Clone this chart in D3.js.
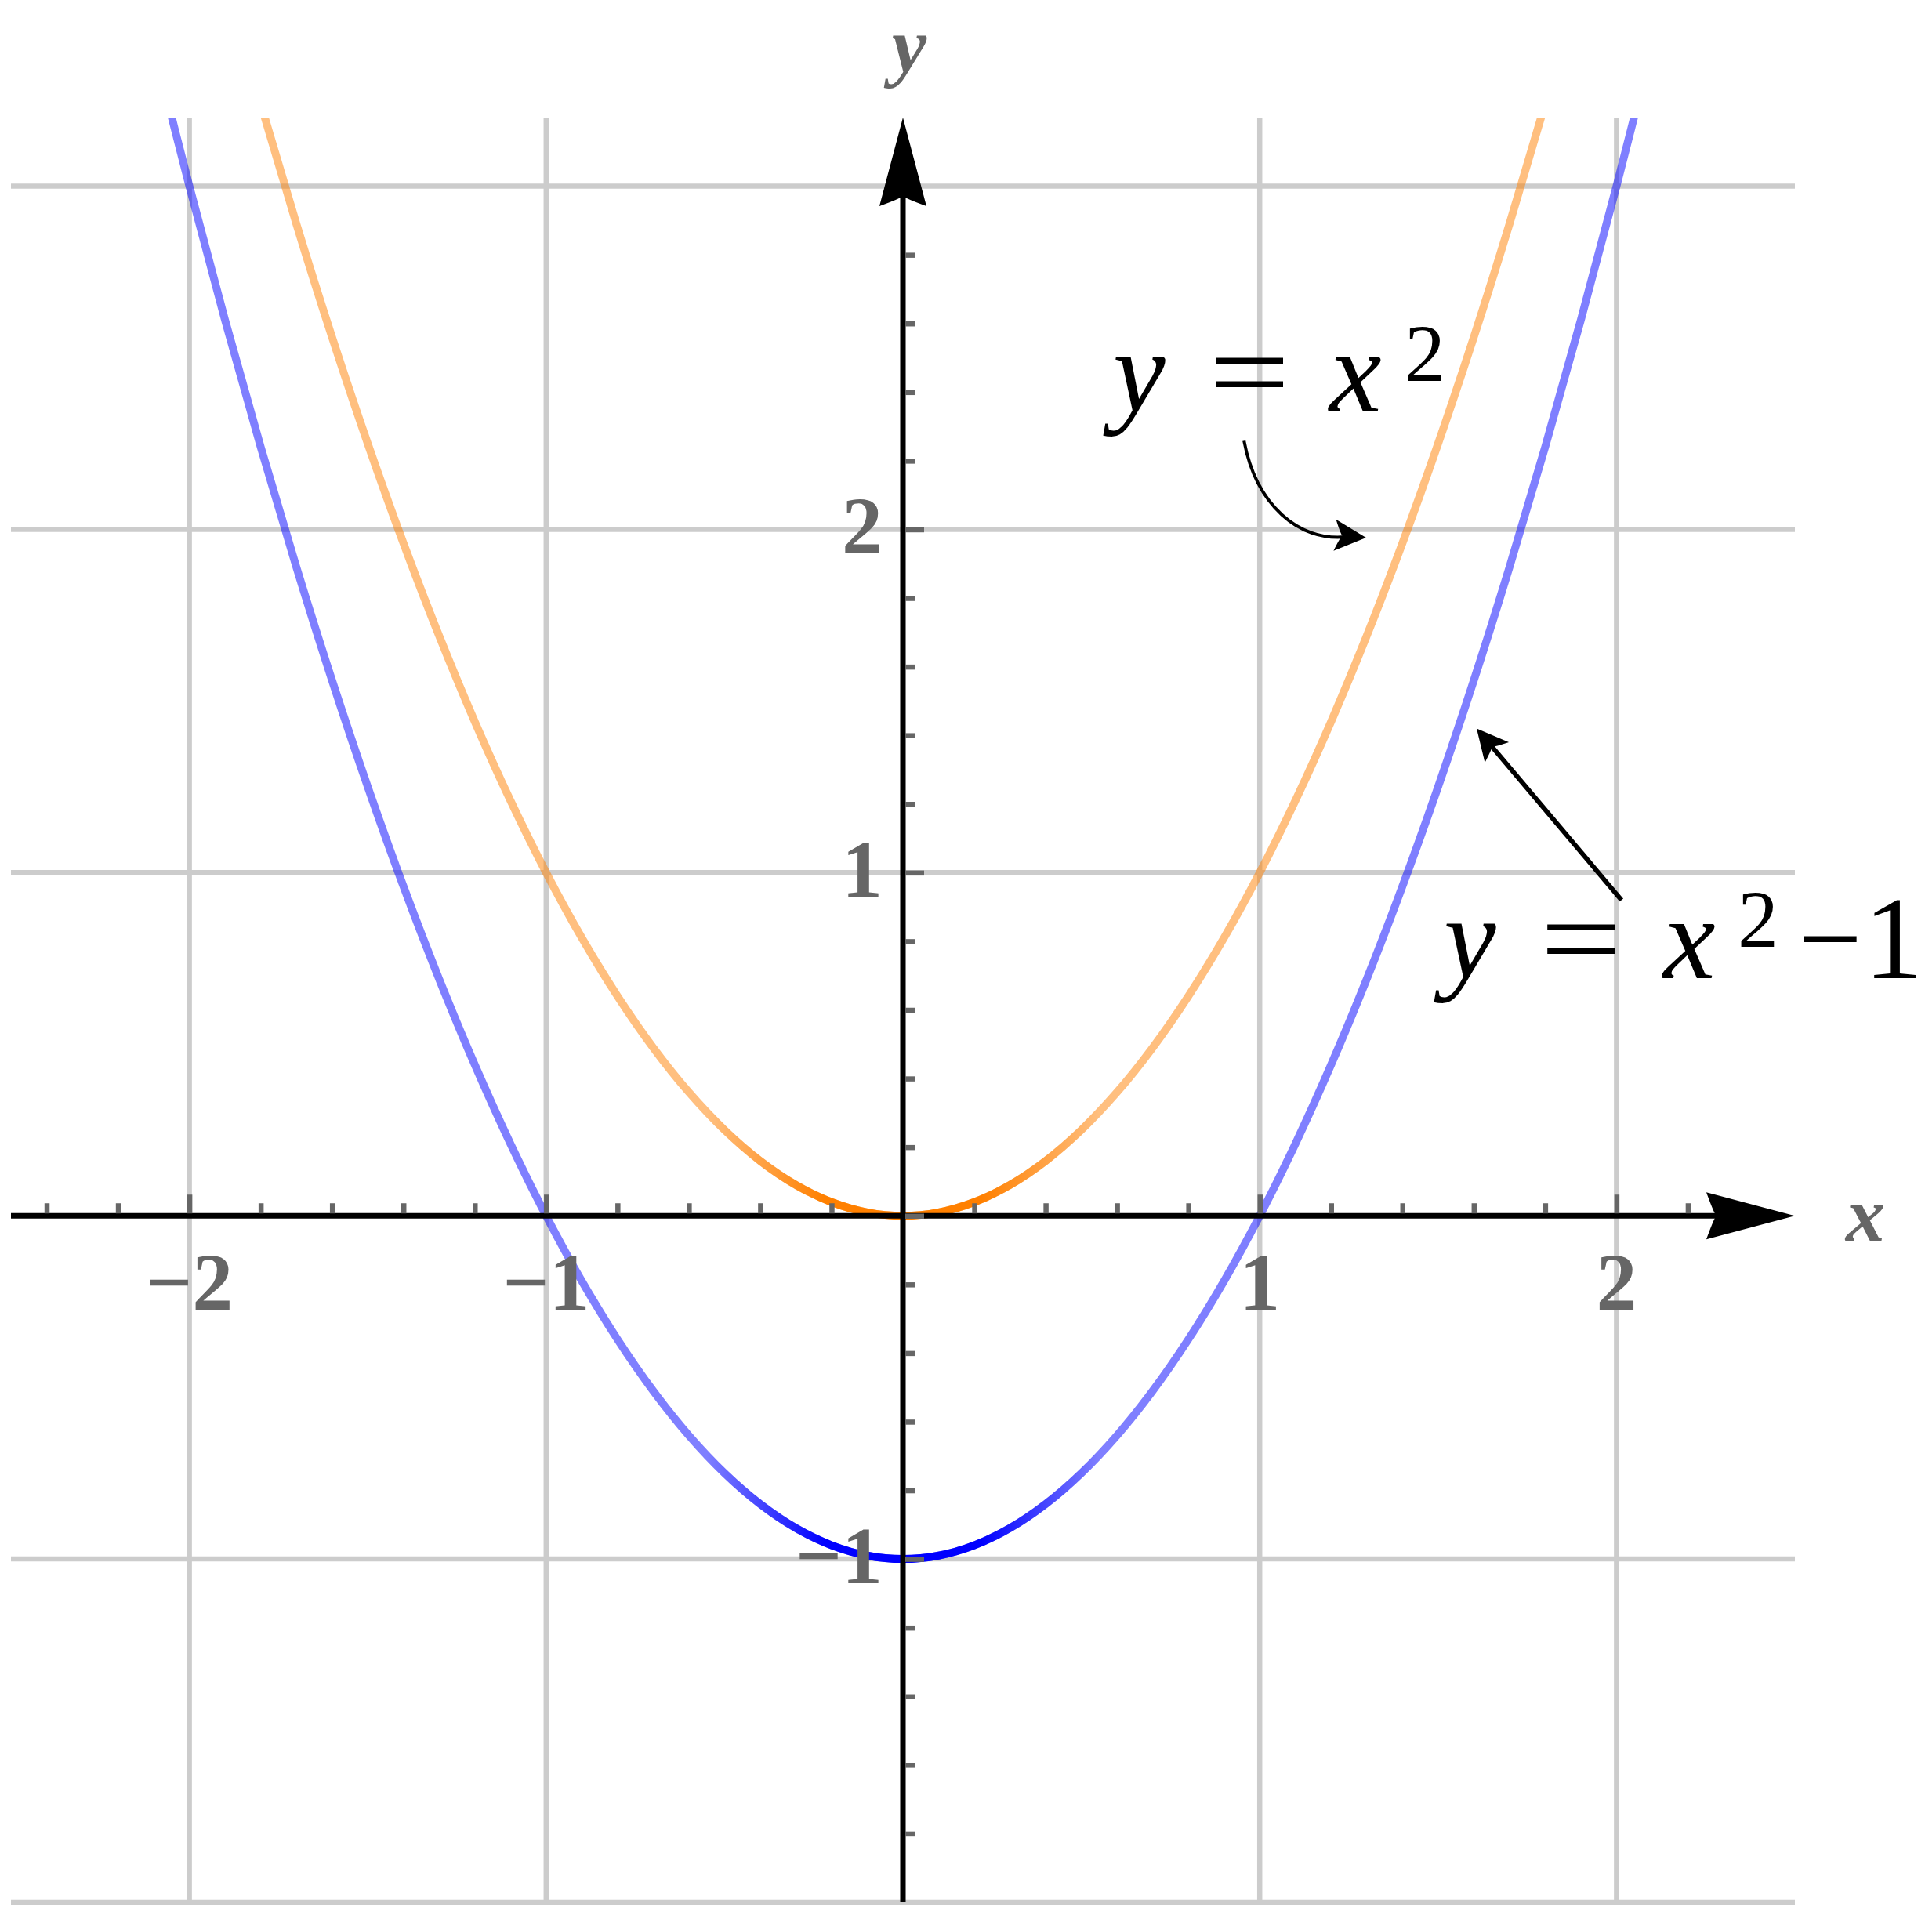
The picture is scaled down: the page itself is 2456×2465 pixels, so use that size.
<!DOCTYPE html>
<html>
<head>
<meta charset="utf-8">
<script src="https://cdn.jsdelivr.net/npm/d3@7"></script>
<style>
  body { margin: 0; background: #fff; }
</style>
</head>
<body>
<div id="chart"></div>
<script>
// sample points
const xs = [-2.1, -2.0, -1.9, -1.8, -1.7, -1.6, -1.5, -1.4, -1.3, -1.2, -1.1,
    -1.0, -0.9, -0.8, -0.7, -0.6, -0.5, -0.4, -0.3, -0.2, -0.1, 0,
    0.1, 0.2, 0.3, 0.4, 0.5, 0.6, 0.7, 0.8, 0.9, 1.0,
    1.1, 1.2, 1.3, 1.4, 1.5, 1.6, 1.7, 1.8, 1.9, 2.0, 2.1];
const ySquare = [4.41, 4.0, 3.61, 3.24, 2.89, 2.56, 2.25, 1.96, 1.69, 1.44, 1.21,
    1.0, 0.81, 0.64, 0.49, 0.36, 0.25, 0.16, 0.09, 0.04, 0.01, 0,
    0.01, 0.04, 0.09, 0.16, 0.25, 0.36, 0.49, 0.64, 0.81, 1.0,
    1.21, 1.44, 1.69, 1.96, 2.25, 2.56, 2.89, 3.24, 3.61, 4.0, 4.41];
const yShifted = [3.41, 3.0, 2.61, 2.24, 1.89, 1.56, 1.25, 0.96, 0.69, 0.44, 0.21,
    0.0, -0.19, -0.36, -0.51, -0.64, -0.75, -0.84, -0.91, -0.96, -0.99, -1,
    -0.99, -0.96, -0.91, -0.84, -0.75, -0.64, -0.51, -0.36, -0.19, 0.0,
    0.21, 0.44, 0.69, 0.96, 1.25, 1.56, 1.89, 2.24, 2.61, 3.0, 3.41];

const xGrid = [-2, -1, 1, 2];
const yGrid = [-2, -1, 1, 2, 3];
const xMinorTicks = [-2.4, -2.2, -1.8, -1.6, -1.4, -1.2, -0.8, -0.6, -0.4, -0.2,
    0.2, 0.4, 0.6, 0.8, 1.2, 1.4, 1.6, 1.8, 2.2];
const xMajorTicks = [-2, -1, 1, 2];
const yMinorTicks = [-1.8, -1.6, -1.4, -1.2, -0.8, -0.6, -0.4, -0.2,
    0.2, 0.4, 0.6, 0.8, 1.2, 1.4, 1.6, 1.8, 2.2, 2.4, 2.6, 2.8];
const yMajorTicks = [-1, 0, 1, 2];
const xTickLabels = [-2, -1, 1, 2];
const yTickLabels = [-1, 1, 2];

const W = 2456, H = 2465;
const grey = '#666666';

// pick Times-like serif if present, otherwise size for DejaVu Serif
function hasFont(name) {
    const ctx = document.createElement('canvas').getContext('2d');
    const probe = 'mmmmmmmmmmlli1WWxy';
    ctx.font = '100px monospace';
    const a = ctx.measureText(probe).width;
    ctx.font = '100px "' + name + '", monospace';
    return ctx.measureText(probe).width !== a;
}
const times = hasFont('Liberation Serif');
const FONT = times ? '"Liberation Serif", serif' : '"DejaVu Serif", serif';
const SZ = times
    ? { tick: 104, axis: 100, main: 150, sup: 104 }
    : { tick: 94, axis: 86, main: 132, sup: 92 };

const svg = d3.select('#chart').append('svg')
    .attr('width', W)
    .attr('height', H)
    .style('font-family', FONT);
svg.append('rect').attr('width', W).attr('height', H).attr('fill', '#fff');

const x = d3.scaleLinear().domain([-2.5, 2.5]).range([14, 2290]);
const y = d3.scaleLinear().domain([-2, 3.2]).range([2427, 150]);

const fmt = v => (v < 0 ? '\u2212' + Math.abs(v) : String(v));

// grid
svg.append('g').selectAll('line').data(xGrid).join('line')
    .attr('x1', d => x(d)).attr('x2', d => x(d))
    .attr('y1', y(3.2)).attr('y2', y(-2))
    .attr('stroke', '#cccccc').attr('stroke-width', 6.5);
svg.append('g').selectAll('line').data(yGrid).join('line')
    .attr('x1', x(-2.5)).attr('x2', x(2.5))
    .attr('y1', d => y(d)).attr('y2', d => y(d))
    .attr('stroke', '#cccccc').attr('stroke-width', 6.5);

// curves, clipped to plot box
svg.append('clipPath').attr('id', 'plotclip')
    .append('rect')
    .attr('x', x(-2.5)).attr('y', y(3.2))
    .attr('width', x(2.5) - x(-2.5)).attr('height', y(-2) - y(3.2));

const defs = svg.append('defs');
function vertexGradient(id, color) {
    const g = defs.append('linearGradient').attr('id', id)
        .attr('gradientUnits', 'userSpaceOnUse')
        .attr('x1', x(-0.55)).attr('x2', x(0.55)).attr('y1', 0).attr('y2', 0);
    [[0, 0], [0.3, 1], [0.7, 1], [1, 0]].forEach(s => {
        g.append('stop').attr('offset', s[0]).attr('stop-color', color).attr('stop-opacity', s[1]);
    });
}
vertexGradient('gOrange', '#ff8000');
vertexGradient('gBlue', '#0000ff');

const line = d3.line()
    .x(d => x(d[0]))
    .y(d => y(d[1]))
    .curve(d3.curveCatmullRom.alpha(0.5));

const curves = svg.append('g').attr('clip-path', 'url(#plotclip)');
const series = [
    { ys: ySquare, color: '#ff8000', grad: 'gOrange' },
    { ys: yShifted, color: '#0000ff', grad: 'gBlue' }
];
series.forEach(s => {
    const pts = xs.map((v, i) => [v, s.ys[i]]);
    curves.append('path')
        .attr('d', line(pts))
        .attr('fill', 'none')
        .attr('stroke', s.color)
        .attr('stroke-opacity', 0.5)
        .attr('stroke-width', 10);
    // denser overdraw near the vertex
    const mid = pts.filter(p => Math.abs(p[0]) <= 0.6);
    curves.append('path')
        .attr('d', line(mid))
        .attr('fill', 'none')
        .attr('stroke', 'url(#' + s.grad + ')')
        .attr('stroke-width', 10);
});

// stealth arrowhead
function stealth(tip, dir, len, half, notch) {
    const [tx, ty] = tip;
    const [dx, dy] = dir;
    const px = -dy, py = dx;
    const bx = tx - dx * len, by = ty - dy * len;
    const nx = tx - dx * (len - notch), ny = ty - dy * (len - notch);
    return 'M' + tx + ',' + ty +
        'L' + (bx + px * half) + ',' + (by + py * half) +
        'Q' + (nx - dx * 2) + ',' + (ny - dy * 2) + ' ' + nx + ',' + ny +
        'Q' + (nx - dx * 2) + ',' + (ny - dy * 2) + ' ' + (bx - px * half) + ',' + (by - py * half) + 'Z';
}

const axes = svg.append('g');
axes.append('line')
    .attr('x1', x(-2.5)).attr('x2', x(2.5) - 100)
    .attr('y1', y(0)).attr('y2', y(0))
    .attr('stroke', '#000').attr('stroke-width', 7);
axes.append('path').attr('d', stealth([x(2.5), y(0)], [1, 0], 113, 30, 13)).attr('fill', '#000');
axes.append('line')
    .attr('x1', x(0)).attr('x2', x(0))
    .attr('y1', y(-2)).attr('y2', y(3.2) + 100)
    .attr('stroke', '#000').attr('stroke-width', 7);
axes.append('path').attr('d', stealth([x(0), y(3.2)], [0, -1], 113, 30, 13)).attr('fill', '#000');

// ticks
const xMinor = svg.append('g')
    .attr('transform', 'translate(0,' + (y(0) - 3) + ')')
    .call(d3.axisTop(x).tickValues(xMinorTicks).tickSize(13).tickFormat(''));
const xMajor = svg.append('g')
    .attr('transform', 'translate(0,' + (y(0) - 3) + ')')
    .call(d3.axisTop(x).tickValues(xMajorTicks).tickSize(24).tickFormat(''));
const yMinor = svg.append('g')
    .attr('transform', 'translate(' + (x(0) + 3) + ',0)')
    .call(d3.axisRight(y).tickValues(yMinorTicks).tickSize(13).tickFormat(''));
const yMajor = svg.append('g')
    .attr('transform', 'translate(' + (x(0) + 3) + ',0)')
    .call(d3.axisRight(y).tickValues(yMajorTicks).tickSize(24).tickFormat(''));
[xMinor, xMajor, yMinor, yMajor].forEach(g => {
    g.select('.domain').remove();
    g.selectAll('line').attr('stroke', grey).attr('stroke-width', 6.5);
});

// tick labels
svg.append('g').selectAll('text').data(xTickLabels).join('text')
    .attr('x', d => x(d))
    .attr('y', y(0) + 120)
    .attr('text-anchor', 'middle')
    .attr('font-size', SZ.tick)
    .attr('font-weight', 'bold')
    .attr('fill', grey)
    .text(fmt);
svg.append('g').selectAll('text').data(yTickLabels).join('text')
    .attr('x', x(0) - 26)
    .attr('y', d => y(d) + 31)
    .attr('text-anchor', 'end')
    .attr('font-size', SZ.tick)
    .attr('font-weight', 'bold')
    .attr('fill', grey)
    .text(fmt);

// axis names
svg.append('text')
    .attr('x', x(0) + 8).attr('y', 92)
    .attr('text-anchor', 'middle')
    .attr('font-size', SZ.axis).attr('font-style', 'italic').attr('font-weight', 'bold')
    .attr('fill', grey)
    .text('y');
svg.append('text')
    .attr('x', x(2.5) + 90).attr('y', y(0) + 32)
    .attr('text-anchor', 'middle')
    .attr('font-size', SZ.axis).attr('font-style', 'italic').attr('font-weight', 'bold')
    .attr('fill', grey)
    .text('x');

// annotations
function label(ax, ay, parts) {
    const t = svg.append('text')
        .attr('x', x(ax)).attr('y', y(ay))
        .attr('font-size', SZ.main)
        .attr('fill', '#000');
    parts.forEach(p => {
        const ts = t.append('tspan')
            .attr('x', x(ax) + p.dx)
            .attr('y', y(ay) + (p.dy || 0))
            .text(p.text);
        if (p.italic) ts.attr('font-style', 'italic');
        if (p.sup) ts.attr('font-size', SZ.sup);
        if (p.len) ts.attr('textLength', p.len).attr('lengthAdjust', 'spacingAndGlyphs');
    });
}

label(0.589, 2.343, [
    { text: 'y', dx: 0, italic: true },
    { text: '=', dx: 122, len: 104 },
    { text: 'x', dx: 276, italic: true },
    { text: '2', dx: 372, dy: -39, sup: true }
]);
label(1.516, 0.692, [
    { text: 'y', dx: 0, italic: true },
    { text: '=', dx: 123, len: 104 },
    { text: 'x', dx: 280, italic: true },
    { text: '2', dx: 375, dy: -40, sup: true },
    { text: '\u2212', dx: 452, len: 82 },
    { text: '1', dx: 536 }
]);

// curved arrow to y = x^2
const c0 = [x(0.956), y(2.258)];
const c1 = [x(0.990), y(2.070)];
const c2 = [x(1.110), y(1.965)];
const c3 = [x(1.240), y(1.978)];
const tipA = [x(1.298), y(1.976)];
svg.append('path')
    .attr('d', 'M' + c0 + 'C' + c1 + ' ' + c2 + ' ' + c3)
    .attr('fill', 'none').attr('stroke', '#000').attr('stroke-width', 4);
svg.append('path')
    .attr('d', stealth(tipA, [0.997, 0.08], 40, 20, 10))
    .attr('fill', '#000');

// straight arrow to y = x^2 - 1
const tail = [x(2.014), y(0.920)];
const tipB = [x(1.608), y(1.420)];
const len = Math.hypot(tipB[0] - tail[0], tipB[1] - tail[1]);
const dir = [(tipB[0] - tail[0]) / len, (tipB[1] - tail[1]) / len];
svg.append('line')
    .attr('x1', tail[0]).attr('y1', tail[1])
    .attr('x2', tipB[0] - dir[0] * 30).attr('y2', tipB[1] - dir[1] * 30)
    .attr('stroke', '#000').attr('stroke-width', 6);
svg.append('path')
    .attr('d', stealth(tipB, dir, 40, 20, 10))
    .attr('fill', '#000');
</script>
</body>
</html>
